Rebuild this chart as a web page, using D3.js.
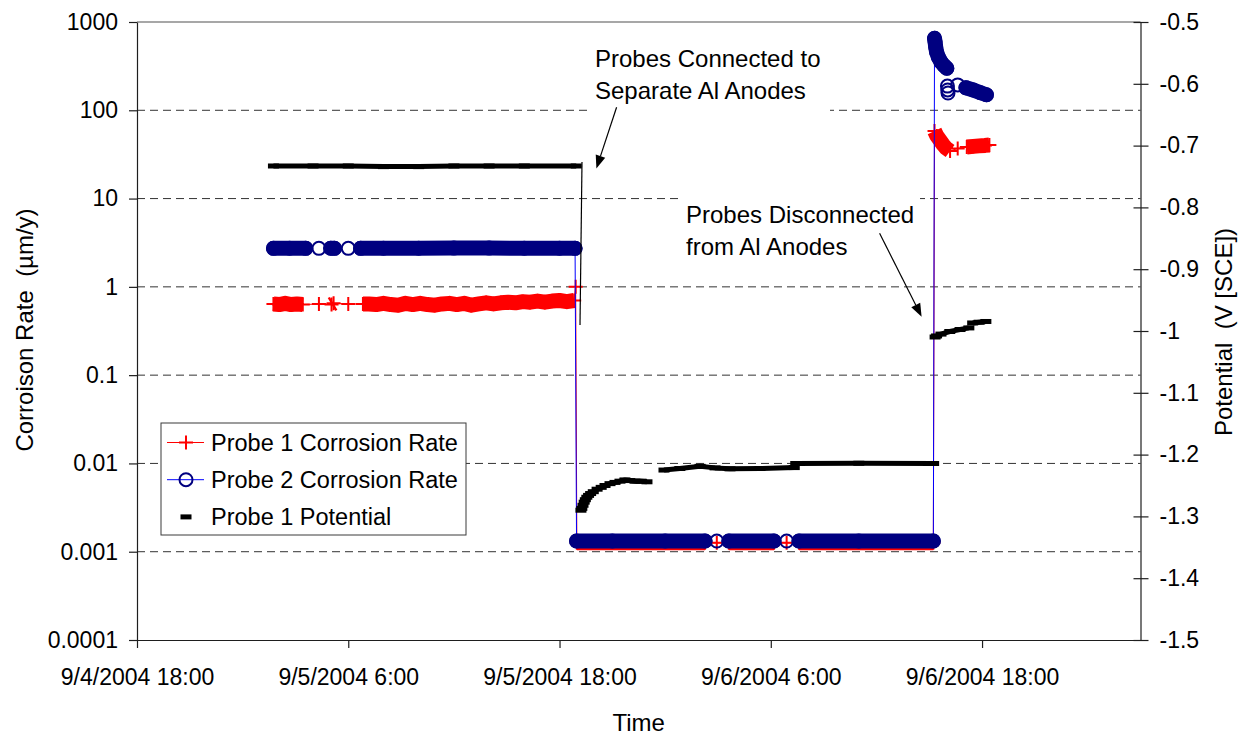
<!DOCTYPE html>
<html>
<head>
<meta charset="utf-8">
<script src="https://cdn.jsdelivr.net/npm/d3@7"></script>
<style>
  html, body { margin: 0; padding: 0; background: #fff; }
  svg { display: block; font-family: "Liberation Sans", Arial, Helvetica, sans-serif; }
</style>
</head>
<body>
<svg id="chart" width="1243" height="738"></svg>
<script>
// ---------- axis definitions ----------
const timeDomain = ["2004-09-04 18:00", "2004-09-07 03:00"];
const timeTicks = ["2004-09-04 18:00", "2004-09-05 06:00", "2004-09-05 18:00", "2004-09-06 06:00", "2004-09-06 18:00"];
const rateTicks = [0.0001, 0.001, 0.01, 0.1, 1, 10, 100, 1000];
const rateTickLabels = ["0.0001", "0.001", "0.01", "0.1", "1", "10", "100", "1000"];
const potentialTicks = [-1.5, -1.4, -1.3, -1.2, -1.1, -1.0, -0.9, -0.8, -0.7, -0.6, -0.5];
const potentialTickLabels = ["-1.5", "-1.4", "-1.3", "-1.2", "-1.1", "-1", "-0.9", "-0.8", "-0.7", "-0.6", "-0.5"];
const seriesNames = ["Probe 1 Corrosion Rate", "Probe 2 Corrosion Rate", "Probe 1 Potential"];

// ---------- logged readings: [time, value]; null marks a break in logging ----------
// Probe 1 corrosion rate (µm/y)
const probe1Rate = [
  ["2004-09-05 01:45", 0.64], ["2004-09-05 02:05", 0.63], ["2004-09-05 02:25", 0.65],
  ["2004-09-05 02:45", 0.63], ["2004-09-05 03:05", 0.64], ["2004-09-05 03:25", 0.63],
  null,
  ["2004-09-05 04:20", 0.64],
  null,
  ["2004-09-05 05:03", 0.63], ["2004-09-05 05:10", 0.65],
  null,
  ["2004-09-05 06:00", 0.64],
  null,
  ["2004-09-05 06:50", 0.64], ["2004-09-05 07:10", 0.64], ["2004-09-05 07:35", 0.63],
  ["2004-09-05 08:00", 0.65], ["2004-09-05 08:25", 0.63], ["2004-09-05 08:50", 0.62],
  ["2004-09-05 09:15", 0.65], ["2004-09-05 09:40", 0.63], ["2004-09-05 10:05", 0.65],
  ["2004-09-05 10:30", 0.63], ["2004-09-05 10:55", 0.62], ["2004-09-05 11:20", 0.64],
  ["2004-09-05 11:45", 0.65], ["2004-09-05 12:10", 0.63], ["2004-09-05 12:35", 0.65],
  ["2004-09-05 13:00", 0.62], ["2004-09-05 13:25", 0.64], ["2004-09-05 13:50", 0.66],
  ["2004-09-05 14:15", 0.64], ["2004-09-05 14:40", 0.66], ["2004-09-05 15:05", 0.67],
  ["2004-09-05 15:30", 0.66], ["2004-09-05 15:55", 0.68], ["2004-09-05 16:20", 0.67],
  ["2004-09-05 16:45", 0.69], ["2004-09-05 17:10", 0.67], ["2004-09-05 17:35", 0.69],
  ["2004-09-05 18:00", 0.70], ["2004-09-05 18:25", 0.68], ["2004-09-05 18:50", 0.70],
  ["2004-09-05 18:55", 1.0],
  ["2004-09-05 18:59", 0.00126], ["2004-09-05 21:00", 0.00126], ["2004-09-06 00:00", 0.00126],
  ["2004-09-06 02:16", 0.00126],
  null,
  ["2004-09-06 02:56", 0.00126],
  null,
  ["2004-09-06 03:37", 0.00126], ["2004-09-06 06:11", 0.00126],
  null,
  ["2004-09-06 06:54", 0.00126],
  null,
  ["2004-09-06 07:36", 0.00126], ["2004-09-06 11:00", 0.00126], ["2004-09-06 15:14", 0.00126],
  ["2004-09-06 15:18", 58.2], ["2004-09-06 15:26", 51.2], ["2004-09-06 15:37", 45.5],
  ["2004-09-06 15:47", 41.0], ["2004-09-06 15:57", 37.4], ["2004-09-06 16:11", 34.6],
  null,
  ["2004-09-06 16:37", 36.9],
  null,
  ["2004-09-06 17:08", 38.4], ["2004-09-06 17:30", 39.0], ["2004-09-06 17:50", 39.5],
  ["2004-09-06 18:10", 40.0], ["2004-09-06 18:25", 40.5]
];

// Probe 2 corrosion rate (µm/y)
const probe2Rate = [
  ["2004-09-05 01:45", 2.73], ["2004-09-05 02:40", 2.74], ["2004-09-05 03:35", 2.73],
  null,
  ["2004-09-05 04:20", 2.73],
  null,
  ["2004-09-05 05:00", 2.74], ["2004-09-05 05:13", 2.73],
  null,
  ["2004-09-05 06:00", 2.73],
  null,
  ["2004-09-05 06:42", 2.73], ["2004-09-05 08:00", 2.74], ["2004-09-05 10:00", 2.74],
  ["2004-09-05 12:00", 2.75], ["2004-09-05 14:00", 2.75], ["2004-09-05 16:00", 2.74],
  ["2004-09-05 18:00", 2.74], ["2004-09-05 18:53", 2.73],
  ["2004-09-05 18:58", 0.00132], ["2004-09-05 21:00", 0.00132], ["2004-09-06 00:00", 0.00132],
  ["2004-09-06 02:16", 0.00132],
  null,
  ["2004-09-06 02:56", 0.00132],
  null,
  ["2004-09-06 03:37", 0.00132], ["2004-09-06 06:11", 0.00132],
  null,
  ["2004-09-06 06:54", 0.00132],
  null,
  ["2004-09-06 07:36", 0.00132], ["2004-09-06 11:00", 0.00132], ["2004-09-06 15:14", 0.00132],
  ["2004-09-06 15:18", 653], ["2004-09-06 15:20", 593], ["2004-09-06 15:22", 521],
  ["2004-09-06 15:25", 457], ["2004-09-06 15:31", 402], ["2004-09-06 15:40", 353],
  ["2004-09-06 15:50", 322], ["2004-09-06 16:00", 299],
  null,
  ["2004-09-06 16:02", 188],
  null,
  ["2004-09-06 16:03", 170],
  null,
  ["2004-09-06 16:04", 157],
  null,
  ["2004-09-06 16:37", 194],
  null,
  ["2004-09-06 17:05", 180], ["2004-09-06 17:30", 170], ["2004-09-06 17:55", 158],
  ["2004-09-06 18:15", 150]
];

// Probe 1 potential (V vs SCE)
const probe1Potential = [
  ["2004-09-05 01:45", -0.733], ["2004-09-05 04:00", -0.733], ["2004-09-05 06:00", -0.733],
  ["2004-09-05 08:00", -0.734], ["2004-09-05 10:00", -0.734], ["2004-09-05 12:00", -0.733],
  ["2004-09-05 14:00", -0.733], ["2004-09-05 16:00", -0.733], ["2004-09-05 18:57", -0.733],
  null,
  ["2004-09-05 19:13", -1.290], ["2004-09-05 19:16", -1.287], ["2004-09-05 19:20", -1.282],
  ["2004-09-05 19:24", -1.277], ["2004-09-05 19:28", -1.273], ["2004-09-05 19:33", -1.269],
  ["2004-09-05 19:39", -1.266], ["2004-09-05 19:46", -1.263], ["2004-09-05 19:55", -1.260],
  ["2004-09-05 20:08", -1.256], ["2004-09-05 20:22", -1.253], ["2004-09-05 20:35", -1.250],
  ["2004-09-05 20:52", -1.247], ["2004-09-05 21:09", -1.245], ["2004-09-05 21:26", -1.243],
  ["2004-09-05 21:43", -1.241], ["2004-09-05 22:00", -1.242], ["2004-09-05 22:17", -1.243],
  ["2004-09-05 22:38", -1.243], ["2004-09-05 22:58", -1.244],
  null,
  ["2004-09-05 23:56", -1.225], ["2004-09-06 00:50", -1.2225], ["2004-09-06 01:59", -1.219],
  ["2004-09-06 02:50", -1.2215], ["2004-09-06 03:41", -1.223], ["2004-09-06 05:23", -1.2225],
  ["2004-09-06 07:20", -1.221],
  null,
  ["2004-09-06 07:25", -1.2144], ["2004-09-06 11:00", -1.214], ["2004-09-06 15:15", -1.2144],
  null,
  ["2004-09-06 15:20", -1.0097], ["2004-09-06 15:25", -1.008], ["2004-09-06 15:40", -1.005],
  ["2004-09-06 16:10", -1.0008], ["2004-09-06 16:45", -0.9976], ["2004-09-06 17:15", -0.995],
  null,
  ["2004-09-06 17:28", -0.987], ["2004-09-06 17:50", -0.9858], ["2004-09-06 18:13", -0.9846]
];

// ---------- layout ----------
const svg = d3.select("#chart");
const plot = { left: 137, right: 1140.5, top: 22, bottom: 640 };
const parseTime = d3.timeParse("%Y-%m-%d %H:%M");
const fmtTime = d3.timeFormat("%-m/%-d/%Y %-H:%M");

const x = d3.scaleTime().domain(timeDomain.map(parseTime)).range([plot.left, plot.right]);
const yRate = d3.scaleLog().domain([rateTicks[0], rateTicks[rateTicks.length - 1]]).range([plot.bottom, plot.top]);
const yPot = d3.scaleLinear().domain([potentialTicks[0], potentialTicks[potentialTicks.length - 1]]).range([plot.bottom, plot.top]);

svg.append("rect").attr("width", 1243).attr("height", 738).attr("fill", "#fff");

// dashed gridlines at each decade of corrosion rate
svg.append("g").selectAll("line")
  .data(rateTicks.slice(1, -1))
  .join("line")
  .attr("x1", plot.left).attr("x2", plot.right)
  .attr("y1", d => yRate(d)).attr("y2", d => yRate(d))
  .attr("stroke", "#333").attr("stroke-width", 1)
  .attr("stroke-dasharray", "8,5");

// top frame line of the plot area
svg.append("line")
  .attr("x1", plot.left).attr("x2", plot.right)
  .attr("y1", plot.top).attr("y2", plot.top)
  .attr("stroke", "#8a8a8a").attr("stroke-width", 1.5);

// ---------- series drawing ----------
const markerShapes = {
  plus: (g, color) => g.append("path").attr("d", "M-7,0H7M0,-7V7")
    .attr("stroke", color).attr("stroke-width", 2).attr("fill", "none"),
  circle: (g, color) => g.append("circle").attr("r", 6.5)
    .attr("stroke", color).attr("stroke-width", 2).attr("fill", "none"),
  dash: (g, color) => g.append("rect").attr("x", -5.5).attr("y", -2.5)
    .attr("width", 11).attr("height", 5).attr("fill", color)
};

const series = [
  { name: seriesNames[0], data: probe1Rate, y: yRate, lineColor: "#ff0000", lineAcrossBreaks: true,
    marker: "plus", color: "#ff0000", band: 15, cap: "butt" },
  { name: seriesNames[1], data: probe2Rate, y: yRate, lineColor: "#0000ff", lineAcrossBreaks: false,
    marker: "circle", color: "#000080", band: 15, cap: "round" },
  { name: seriesNames[2], data: probe1Potential, y: yPot, lineColor: null, lineAcrossBreaks: false,
    marker: "dash", color: "#000000", band: 5, cap: "butt" }
];

// split readings into uninterrupted runs
function toRuns(data) {
  const runs = [];
  let cur = [];
  data.forEach(d => {
    if (d === null) { if (cur.length) runs.push(cur); cur = []; }
    else cur.push({ t: parseTime(d[0]), v: d[1] });
  });
  if (cur.length) runs.push(cur);
  return runs;
}

// closely spaced readings merge into a solid band of markers;
// a large step between readings is only joined by the series line
function bandPieces(run, yScale) {
  const pieces = [];
  let cur = [run[0]];
  for (let i = 1; i < run.length; i++) {
    if (Math.abs(yScale(run[i].v) - yScale(run[i - 1].v)) < 12) cur.push(run[i]);
    else { if (cur.length > 1) pieces.push(cur); cur = [run[i]]; }
  }
  if (cur.length > 1) pieces.push(cur);
  return pieces;
}

series.forEach(s => {
  const g = svg.append("g");
  const runs = toRuns(s.data);
  const line = d3.line().x(d => x(d.t)).y(d => s.y(d.v));

  if (s.lineColor) {
    const lineRuns = s.lineAcrossBreaks ? [runs.flat()] : runs;
    lineRuns.filter(r => r.length > 1).forEach(r => {
      g.append("path").attr("d", line(r))
        .attr("fill", "none").attr("stroke", s.lineColor).attr("stroke-width", 1);
    });
  }
  runs.forEach(r => {
    bandPieces(r, s.y).forEach(p => {
      g.append("path").attr("d", line(p))
        .attr("fill", "none").attr("stroke", s.color)
        .attr("stroke-width", s.band)
        .attr("stroke-linecap", s.cap).attr("stroke-linejoin", "round");
    });
    r.forEach(d => {
      const m = g.append("g").attr("transform", `translate(${x(d.t)},${s.y(d.v)})`);
      markerShapes[s.marker](m, s.color);
    });
  });
});

// ---------- axes ----------
const tickFont = 23;

const axLeft = svg.append("g").attr("transform", `translate(${plot.left},0)`)
  .call(d3.axisLeft(yRate).tickValues(rateTicks)
    .tickFormat((d, i) => rateTickLabels[i]).tickSizeInner(8).tickSizeOuter(0).tickPadding(11));

const axRight = svg.append("g").attr("transform", `translate(${plot.right},0)`)
  .call(d3.axisRight(yPot).tickValues(potentialTicks)
    .tickFormat((d, i) => potentialTickLabels[i]).tickSizeInner(8).tickSizeOuter(0).tickPadding(11));
axRight.selectAll(".tick line").attr("x1", -7);

const axBottom = svg.append("g").attr("transform", `translate(0,${plot.bottom})`)
  .call(d3.axisBottom(x).tickValues(timeTicks.map(parseTime))
    .tickFormat(fmtTime).tickSizeInner(8).tickSizeOuter(0).tickPadding(21));

[axLeft, axRight, axBottom].forEach(ax => {
  ax.attr("font-family", null).attr("font-size", null);
  ax.select(".domain").attr("stroke", "#1e1e1e").attr("stroke-width", 1.2);
  ax.selectAll(".tick line").attr("stroke", "#1e1e1e").attr("stroke-width", 1.2);
  ax.selectAll(".tick text").attr("font-size", tickFont).attr("fill", "#000");
});

// axis titles
const titleFont = 24;
svg.append("text")
  .attr("x", (plot.left + plot.right) / 2).attr("y", 731)
  .attr("text-anchor", "middle").attr("font-size", titleFont)
  .text("Time");

svg.append("text")
  .attr("transform", `translate(33,330) rotate(-90)`)
  .attr("text-anchor", "middle").attr("font-size", titleFont)
  .style("white-space", "pre")
  .text("Corroison Rate  (µm/y)");

svg.append("text")
  .attr("transform", `translate(1232,332) rotate(-90)`)
  .attr("text-anchor", "middle").attr("font-size", titleFont)
  .style("white-space", "pre")
  .text("Potential  (V [SCE])");

// ---------- legend ----------
const legend = svg.append("g");
legend.append("rect")
  .attr("x", 161).attr("y", 423).attr("width", 305).attr("height", 112)
  .attr("fill", "#fff").attr("stroke", "#3a3a3a").attr("stroke-width", 1);

series.forEach((s, i) => {
  const cy = 442.5 + i * 37.2;
  if (s.lineColor) {
    legend.append("line").attr("x1", 167).attr("x2", 204).attr("y1", cy).attr("y2", cy)
      .attr("stroke", s.lineColor).attr("stroke-width", 1);
  }
  const m = legend.append("g").attr("transform", `translate(186,${cy})`);
  markerShapes[s.marker](m, s.color);
  legend.append("text").attr("x", 211).attr("y", cy).attr("dy", "0.36em")
    .attr("font-size", 23.5).text(s.name);
});

// ---------- annotations ----------
const notes = [
  { lines: ["Probes Connected to", "Separate Al Anodes"], x: 595, y: 66.5, box: [589, 36, 241, 77],
    arrow: [[616.6, 107.3], [596.4, 168.5]] },
  { lines: ["Probes Disconnected", "from Al Anodes"], x: 686, y: 222.5, box: [679, 190, 241, 72],
    arrow: [[879.6, 233.3], [921.6, 316.7]] }
];

notes.forEach(n => {
  svg.append("rect").attr("x", n.box[0]).attr("y", n.box[1])
    .attr("width", n.box[2]).attr("height", n.box[3]).attr("fill", "#fff");
  n.lines.forEach((t, i) => {
    svg.append("text").attr("x", n.x).attr("y", n.y + i * 32.5)
      .attr("font-size", 24).text(t);
  });
});

// connection marker line
svg.append("line").attr("x1", 582).attr("y1", 162).attr("x2", 580).attr("y2", 325)
  .attr("stroke", "#000").attr("stroke-width", 1.2);

notes.forEach(n => {
  const [a, b] = n.arrow;
  const ang = Math.atan2(b[1] - a[1], b[0] - a[0]);
  const len = 13, half = 5;
  const bx = b[0] - len * Math.cos(ang), by = b[1] - len * Math.sin(ang);
  svg.append("line").attr("x1", a[0]).attr("y1", a[1]).attr("x2", bx).attr("y2", by)
    .attr("stroke", "#000").attr("stroke-width", 1.2);
  const px = -Math.sin(ang) * half, py = Math.cos(ang) * half;
  svg.append("path")
    .attr("d", `M${b[0]},${b[1]}L${bx + px},${by + py}L${bx - px},${by - py}Z`)
    .attr("fill", "#000");
});
</script>
</body>
</html>
